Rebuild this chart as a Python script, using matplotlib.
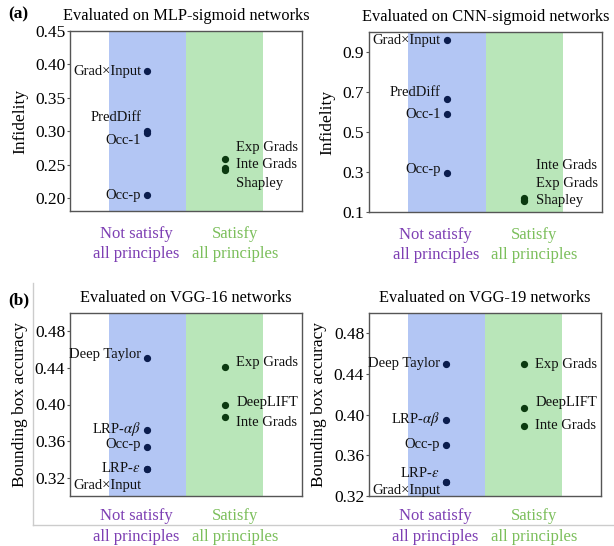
import matplotlib
matplotlib.use("Agg")
import matplotlib.pyplot as plt
from matplotlib.lines import Line2D

plt.rcParams['font.family'] = ['Liberation Serif', 'DejaVu Serif']
plt.rcParams['mathtext.fontset'] = 'stix'

# ---------------- data ----------------
categories = ["Not satisfy\nall principles", "Satisfy\nall principles"]

# Panel (a) left: MLP-sigmoid, infidelity
mlp_not_names = ["Grad×Input", "PredDiff", "Occ-1", "Occ-p"]
mlp_not_vals = [0.390, 0.301, 0.298, 0.205]
mlp_sat_names = ["Exp Grads", "Inte Grads", "Shapley"]
mlp_sat_vals = [0.258, 0.246, 0.243]

# Panel (a) right: CNN-sigmoid, infidelity
cnn_not_names = ["Grad×Input", "PredDiff", "Occ-1", "Occ-p"]
cnn_not_vals = [0.962, 0.665, 0.588, 0.296]
cnn_sat_names = ["Inte Grads", "Exp Grads", "Shapley"]
cnn_sat_vals = [0.168, 0.162, 0.155]

# Panel (b) left: VGG-16, bounding box accuracy
vgg16_not_names = ["Deep Taylor", r"LRP-$\alpha\beta$", "Occ-p", r"LRP-$\epsilon$", "Grad×Input"]
vgg16_not_vals = [0.451, 0.372, 0.354, 0.329, 0.329]
vgg16_sat_names = ["Exp Grads", "DeepLIFT", "Inte Grads"]
vgg16_sat_vals = [0.441, 0.400, 0.386]

# Panel (b) right: VGG-19, bounding box accuracy
vgg19_not_names = ["Deep Taylor", r"LRP-$\alpha\beta$", "Occ-p", r"LRP-$\epsilon$", "Grad×Input"]
vgg19_not_vals = [0.450, 0.395, 0.370, 0.334, 0.334]
vgg19_sat_names = ["Exp Grads", "DeepLIFT", "Inte Grads"]
vgg19_sat_vals = [0.450, 0.407, 0.389]

# label placement (repelled text positions, y in data units)
mlp_not_label_y = [0.390, 0.321, 0.2865, 0.204]
mlp_sat_label_y = [0.276, 0.2505, 0.222]
cnn_not_label_y = [0.957, 0.697, 0.585, 0.313]
cnn_sat_label_y = [0.332, 0.245, 0.157]
vgg16_not_label_y = [0.455, 0.3733, 0.3567, 0.3302, 0.3115]
vgg16_sat_label_y = [0.4461, 0.402, 0.380]
vgg19_not_label_y = [0.450, 0.3955, 0.3707, 0.343, 0.3257]
vgg19_sat_label_y = [0.4497, 0.4116, 0.389]

# ---------------- style ----------------
BLUE_BAND = '#b3c6f4'
GREEN_BAND = '#b9e6b9'
BLUE_PT = '#0b1d4e'
GREEN_PT = '#0b3a10'
PURPLE_TXT = '#7d3fb3'
GREEN_TXT = '#7cbf5c'
SPINE = '#555555'

W, H = 614, 546
fig = plt.figure(figsize=(W / 100, H / 100), dpi=100)


def px_axes(x0, y0, x1, y1):
    return fig.add_axes([x0 / W, 1 - y1 / H, (x1 - x0) / W, (y1 - y0) / H])


def draw_panel(ax, title, ylabel, ylim, yticks, yfmt,
               not_names, not_vals, not_ly, sat_names, sat_vals, sat_ly, cat_off):
    ax.set_xlim(0, 3)
    ax.set_ylim(*ylim)
    ax.axvspan(0.5, 1.5, color=BLUE_BAND, lw=0, zorder=0)
    ax.axvspan(1.5, 2.5, color=GREEN_BAND, lw=0, zorder=0)
    ax.plot([1] * len(not_vals), not_vals, 'o', color=BLUE_PT, ms=4.2, zorder=3, clip_on=False)
    ax.plot([2] * len(sat_vals), sat_vals, 'o', color=GREEN_PT, ms=4.2, zorder=3, clip_on=False)
    for name, ly in zip(not_names, not_ly):
        ax.text(0.92, ly, name, ha='right', va='center', fontsize=10.5, color='#111111', zorder=4)
    for name, ly in zip(sat_names, sat_ly):
        ax.text(2.15, ly, name, ha='left', va='center', fontsize=10.5, color='#111111', zorder=4)
    ax.set_yticks(yticks)
    ax.set_yticklabels([yfmt.format(v) for v in yticks], fontsize=12.5)
    ax.tick_params(axis='y', length=2, color=SPINE, pad=1.5)
    ax.set_xticks([])
    # category labels below the axis
    for xc, lab, c in zip([0.86, 2.13], categories, [PURPLE_TXT, GREEN_TXT]):
        ax.annotate(lab, xy=(xc, 0), xycoords=('data', 'axes fraction'),
                    xytext=(0, -cat_off), textcoords='offset points',
                    ha='center', va='top', fontsize=12, color=c, linespacing=1.38)
    for s in ax.spines.values():
        s.set_color(SPINE)
        s.set_linewidth(1.0)
    ax.set_ylabel(ylabel, fontsize=12.5, labelpad=5)
    ax.set_title(title, fontsize=11.8, pad=8)


ax1 = px_axes(70, 31, 302, 211)
draw_panel(ax1, "Evaluated on MLP-sigmoid networks", "Infidelity",
           (0.181, 0.45), [0.20, 0.25, 0.30, 0.35, 0.40, 0.45], "{:.2f}",
           mlp_not_names, mlp_not_vals, mlp_not_label_y,
           mlp_sat_names, mlp_sat_vals, mlp_sat_label_y, 10.5)

ax2 = px_axes(369, 32, 602, 212)
draw_panel(ax2, "Evaluated on CNN-sigmoid networks", "Infidelity",
           (0.1, 1.0), [0.1, 0.3, 0.5, 0.7, 0.9], "{:.1f}",
           cnn_not_names, cnn_not_vals, cnn_not_label_y,
           cnn_sat_names, cnn_sat_vals, cnn_sat_label_y, 10.5)

ax3 = px_axes(70, 313, 302, 496)
draw_panel(ax3, "Evaluated on VGG-16 networks", "Bounding box accuracy",
           (0.30, 0.50), [0.32, 0.36, 0.40, 0.44, 0.48], "{:.2f}",
           vgg16_not_names, vgg16_not_vals, vgg16_not_label_y,
           vgg16_sat_names, vgg16_sat_vals, vgg16_sat_label_y, 9)

ax4 = px_axes(369, 313, 601, 496)
draw_panel(ax4, "Evaluated on VGG-19 networks", "Bounding box accuracy",
           (0.32, 0.50), [0.32, 0.36, 0.40, 0.44, 0.48], "{:.2f}",
           vgg19_not_names, vgg19_not_vals, vgg19_not_label_y,
           vgg19_sat_names, vgg19_sat_vals, vgg19_sat_label_y, 9)

# panel tags
fig.text(8 / W, 1 - 14 / H, "(a)", fontsize=12.5, fontweight='bold', va='center', ha='left')
fig.text(8 / W, 1 - 300 / H, "(b)", fontsize=12.5, fontweight='bold', va='center', ha='left')

# thin grey frame around panel (b)
fig.add_artist(Line2D([33 / W, 33 / W], [1 - 283 / H, 1 - 525 / H], color='#cccccc', lw=1.0))
fig.add_artist(Line2D([33 / W, 1.0], [1 - 525 / H, 1 - 525 / H], color='#cccccc', lw=1.0))

fig.savefig("out.png", dpi=100)
